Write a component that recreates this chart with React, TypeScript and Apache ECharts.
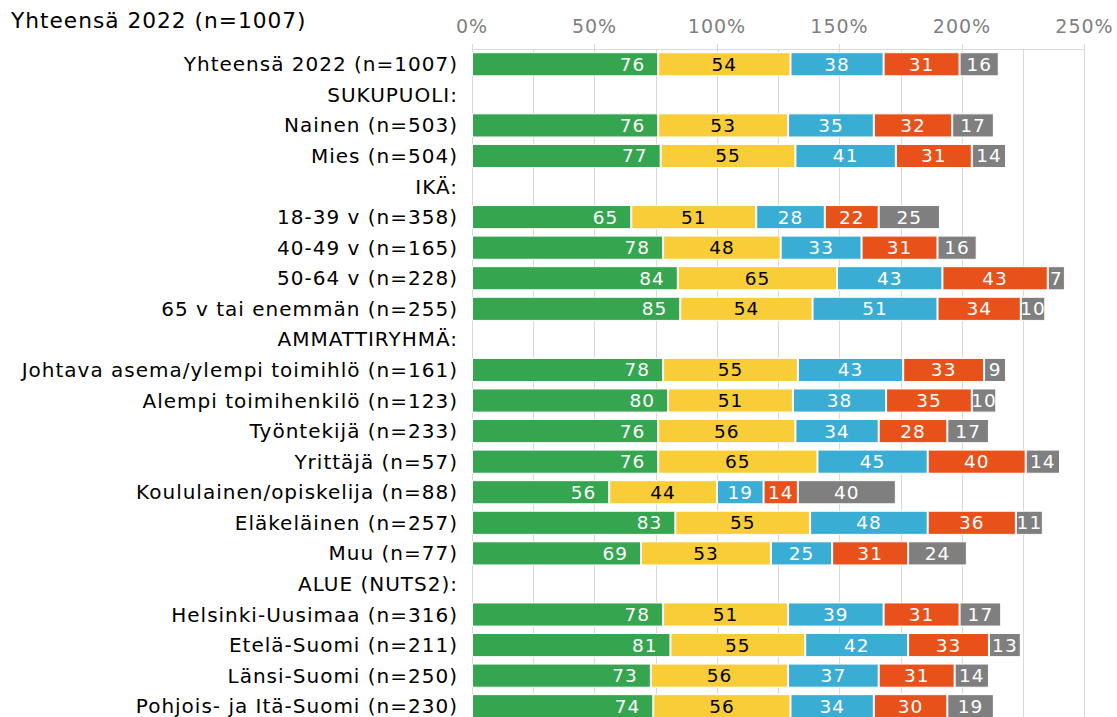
import React, { useEffect, useRef } from "react";
import * as echarts from "echarts";

const titleText = "Yhteensä 2022 (n=1007)";

const categories = [
  "Yhteensä 2022 (n=1007)",
  "SUKUPUOLI:",
  "Nainen (n=503)",
  "Mies (n=504)",
  "IKÄ:",
  "18-39 v (n=358)",
  "40-49 v (n=165)",
  "50-64 v (n=228)",
  "65 v tai enemmän (n=255)",
  "AMMATTIRYHMÄ:",
  "Johtava asema/ylempi toimihlö (n=161)",
  "Alempi toimihenkilö (n=123)",
  "Työntekijä (n=233)",
  "Yrittäjä (n=57)",
  "Koululainen/opiskelija (n=88)",
  "Eläkeläinen (n=257)",
  "Muu (n=77)",
  "ALUE (NUTS2):",
  "Helsinki-Uusimaa (n=316)",
  "Etelä-Suomi (n=211)",
  "Länsi-Suomi (n=250)",
  "Pohjois- ja Itä-Suomi (n=230)",
];

const s1 = [76, null, 76, 77, null, 65, 78, 84, 85, null, 78, 80, 76, 76, 56, 83, 69, null, 78, 81, 73, 74];
const s2 = [54, null, 53, 55, null, 51, 48, 65, 54, null, 55, 51, 56, 65, 44, 55, 53, null, 51, 55, 56, 56];
const s3 = [38, null, 35, 41, null, 28, 33, 43, 51, null, 43, 38, 34, 45, 19, 48, 25, null, 39, 42, 37, 34];
const s4 = [31, null, 32, 31, null, 22, 31, 43, 34, null, 33, 35, 28, 40, 14, 36, 31, null, 31, 33, 31, 30];
const s5 = [16, null, 17, 14, null, 25, 16, 7, 10, null, 9, 10, 17, 14, 40, 11, 24, null, 17, 13, 14, 19];

const seriesNames = ["Sarja 1", "Sarja 2", "Sarja 3", "Sarja 4", "Sarja 5"];
const seriesData = [s1, s2, s3, s4, s5];
const colors = ["#35a550", "#f9cd38", "#3aadd4", "#e8511a", "#7f7f7f"];
const labelColors = ["#ffffff", "#000000", "#ffffff", "#ffffff", "#ffffff"];

const FONT = "'DejaVu Sans', Verdana, sans-serif";

export default function App() {
  const ref = useRef<HTMLDivElement>(null);
  useEffect(() => {
    if (!ref.current) return;
    const chart = echarts.init(ref.current, null, { renderer: "svg" });
    chart.setOption({
      animation: false,
      textStyle: { fontFamily: FONT },
      title: {
        text: titleText,
        left: 11,
        top: 9,
        padding: 0,
        textStyle: { fontSize: 21.7, fontWeight: "normal", color: "#000", fontFamily: FONT },
      },
      grid: { left: 472, right: 32.5, top: 49, height: 672.5, containLabel: false },
      xAxis: {
        type: "value",
        position: "top",
        min: 0,
        max: 250,
        interval: 50,
        axisLine: { show: true, lineStyle: { color: "#d9d9d9", width: 1 } },
        axisTick: { show: true, length: 5, lineStyle: { color: "#d9d9d9" } },
        axisLabel: {
          formatter: "{value}%",
          color: "#7f7f7f",
          fontSize: 19,
          margin: 14,
          fontFamily: FONT,
        },
        splitLine: { show: true, lineStyle: { color: "#d9d9d9", width: 1 } },
        minorTick: { show: false, splitNumber: 2 },
        minorSplitLine: { show: true, lineStyle: { color: "#d9d9d9", width: 1 } },
      },
      yAxis: {
        type: "category",
        inverse: true,
        data: categories,
        axisLine: { show: true, lineStyle: { color: "#d9d9d9", width: 1 } },
        axisTick: { show: false },
        axisLabel: { color: "#000", fontSize: 20, margin: 14, fontFamily: FONT },
        splitLine: { show: false },
      },
      series: seriesData.map((d, i) => ({
        name: seriesNames[i],
        type: "bar",
        stack: "total",
        data: d,
        barCategoryGap: "21%",
        itemStyle: { color: colors[i], borderColor: "#ffffff", borderWidth: 1 },
        label: {
          show: true,
          position: i === 0 ? "insideRight" : "inside",
          distance: 13,
          color: labelColors[i],
          fontSize: 18.5,
          fontFamily: FONT,
          textBorderWidth: 0,
        },
      })),
    });
    return () => chart.dispose();
  }, []);
  return (
    <div
      style={{
        position: "absolute",
        left: 0,
        top: 0,
        width: 1117,
        height: 717,
        overflow: "hidden",
        background: "#fff",
      }}
    >
      <div
        ref={ref}
        style={{
          width: 1117,
          height: 760,
          letterSpacing: "1px",
          background: "#fff",
        }}
      />
    </div>
  );
}
